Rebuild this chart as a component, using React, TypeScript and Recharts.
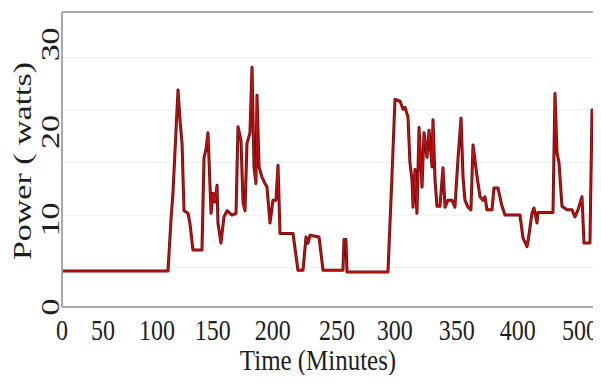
import { LineChart, Line, XAxis, YAxis, ReferenceLine } from 'recharts';

// x positions follow the printed tick labels of the original figure
const xTickValues = [0, 35.6, 82.5, 131, 183, 239, 289, 343, 396, 450];
const xTickLabels = ['0', '50', '100', '150', '200', '250', '300', '350', '400', '500'];
const yTickValues = [0, 10, 20, 30];
const gridLevels = [4.5, 10.5, 16.5, 22.5, 28.5];

const minutes = [
  0, 92.1, 94.7, 96.4, 99.0, 100.8, 102.5, 104.3, 106.0, 109.5, 111.2, 113.8, 121.6, 123.4, 125.1,
  126.8, 127.7, 129.5, 131.2, 132.9, 134.7, 135.5, 138.1, 140.7, 143.4, 147.7, 151.2, 152.9, 155.5,
  157.3, 159.0, 160.7, 163.3, 165.1, 166.8, 168.5, 169.4, 171.2, 173.8, 176.4, 178.1, 180.7, 183.3,
  185.9, 187.7, 189.4, 200.7, 205.0, 209.4, 212.0, 213.7, 215.5, 223.3, 226.8, 244.1, 245.0, 246.7,
  247.6, 283.2, 286.7, 289.3, 293.7, 296.3, 298.0, 300.6, 302.3, 304.1, 305.0, 306.7, 308.4, 310.2,
  312.8, 314.5, 317.1, 318.9, 321.5, 322.3, 324.1, 325.8, 328.4, 331.0, 332.8, 335.4, 338.8, 341.4,
  344.0, 346.7, 348.4, 350.1, 352.7, 355.3, 357.1, 358.8, 360.6, 363.2, 365.8, 367.5, 369.2, 373.6,
  375.3, 378.8, 382.3, 384.9, 397.9, 400.5, 404.0, 404.9, 408.3, 410.1, 412.7, 413.6, 426.6, 428.3,
  430.1, 431.8, 434.4, 438.7, 443.1, 445.7, 448.3, 451.8, 453.5, 458.7, 460.5, 462.2, 464.8, 465.7,
  467.4, 468.3,
];

const watts = [
  4.1, 4.1, 10, 13, 20, 24.8, 21.4, 18.7, 11, 10.7, 9.5, 6.5, 6.5, 17.1, 18,
  19.9, 17, 10.7, 13, 12, 13.9, 9.6, 7.3, 10.3, 11, 10.5, 10.7, 20.6, 19,
  11.9, 11, 18.7, 19.9, 27.4, 16, 14.1, 24.2, 16, 14.8, 14.1, 13.7, 9.6, 12.2,
  12.2, 16.2, 8.4, 8.4, 4.2, 4.2, 8, 7.3, 8.2, 8, 4.2, 4.2, 7.7, 7.7,
  4.0, 4.0, 15, 23.7, 23.5, 22.6, 22.8, 21.7, 16.5, 14.5, 11.4, 15.7, 10.7, 20.5,
  13.7, 19.9, 17.1, 20.2, 16, 21.4, 14.5, 11.5, 11.5, 15.9, 11.4, 12.2, 12.2, 11.4,
  16.8, 21.6, 14.9, 12.2, 11.4, 11.1, 18.5, 16.8, 14.9, 12.6, 12.2, 12.6, 11.1, 11.1,
  13.6, 13.6, 11.5, 10.5, 10.5, 7.9, 6.9, 7.5, 10.7, 11.3, 9.6, 10.8, 10.8, 24.4,
  17.6, 16.5, 11.5, 11.1, 11.1, 10.3, 11.1, 12.6, 7.3, 7.3, 22.5, 21.4, 25.1, 20.6,
  18.7, 18,
];

const data = minutes.map((m, i) => ({ minutes: m, watts: watts[i] }));

const X_MAX = 468.3;
const Y_MAX = 33.7;
const FONT = '"Liberation Serif", "Times New Roman", serif';
const AXIS_COLOR = '#a9a9a9';
const TEXT_COLOR = '#1e1e1e';

function XTick(props: any) {
  const { x, y, index } = props;
  return (
    <g transform={`translate(${x},${y + 31}) scale(0.8,1)`}>
      <text x={0} y={0} textAnchor="middle" fontSize={30} fontFamily={FONT} fill={TEXT_COLOR}>
        {xTickLabels[index]}
      </text>
    </g>
  );
}

function YTick(props: any) {
  const { x, y, payload } = props;
  return (
    <g transform={`translate(${x - 1},${y}) scale(0.72,1) rotate(-90)`}>
      <text x={0} y={0} textAnchor="middle" fontSize={34} fontFamily={FONT} fill={TEXT_COLOR}>
        {payload.value}
      </text>
    </g>
  );
}

function XTitle() {
  return (
    <g transform="translate(310,362) scale(0.86,1)">
      <text x={0} y={0} textAnchor="middle" fontSize={29} fontFamily={FONT} fill={TEXT_COLOR}>
        Time (Minutes)
      </text>
    </g>
  );
}

function YTitle() {
  return (
    <g transform="translate(23,153) scale(0.72,1) rotate(-90)">
      <text x={0} y={0} textAnchor="middle" fontSize={34} fontFamily={FONT} fill={TEXT_COLOR}>
        Power ( watts)
      </text>
    </g>
  );
}

export default function App() {
  return (
    <div style={{ width: 593, height: 367 }}>
      <LineChart width={593} height={367} data={data} margin={{ top: 4, right: 0, bottom: 0, left: 0 }}>
        {gridLevels.map((g) => (
          <ReferenceLine key={g} y={g} stroke="#eeeeee" strokeWidth={1} />
        ))}
        <ReferenceLine y={Y_MAX} stroke={AXIS_COLOR} strokeWidth={2} />
        <XAxis
          type="number"
          dataKey="minutes"
          domain={[0, X_MAX]}
          ticks={xTickValues}
          interval={0}
          allowDataOverflow
          height={68}
          tickLine={false}
          tickSize={0}
          axisLine={{ stroke: AXIS_COLOR, strokeWidth: 2 }}
          tick={<XTick />}
          label={<XTitle />}
        />
        <YAxis
          type="number"
          domain={[0, Y_MAX]}
          ticks={yTickValues}
          interval={0}
          allowDataOverflow
          width={54}
          tickLine={false}
          tickSize={0}
          axisLine={{ stroke: AXIS_COLOR, strokeWidth: 2 }}
          tick={<YTick />}
          label={<YTitle />}
        />
        <Line
          type="linear"
          dataKey="watts"
          stroke="#6e0a0a"
          strokeWidth={3}
          dot={false}
          isAnimationActive={false}
          strokeLinejoin="round"
        />
        <Line
          type="linear"
          dataKey="watts"
          stroke="#c41212"
          strokeWidth={1.3}
          dot={false}
          isAnimationActive={false}
          strokeLinejoin="round"
        />
      </LineChart>
    </div>
  );
}
